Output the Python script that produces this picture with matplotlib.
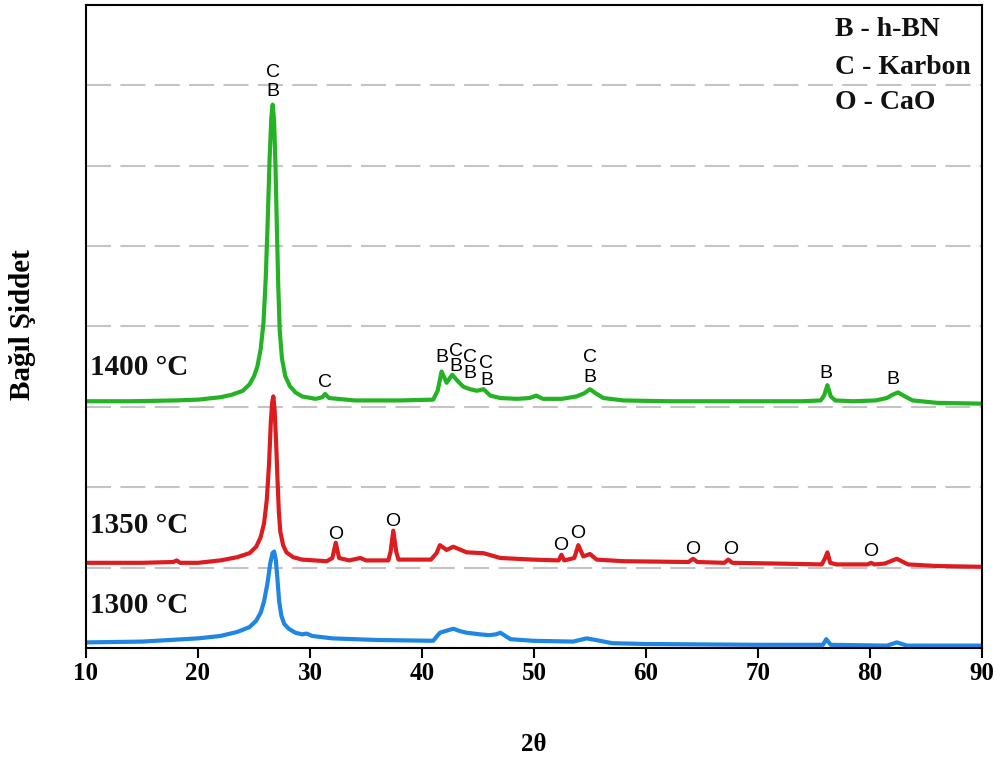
import matplotlib
matplotlib.use("Agg")
import matplotlib.pyplot as plt

# ---- XRD patterns (2θ in degrees, stacked relative intensity) ----
two_theta_1300 = [10, 15, 20, 22, 23.5, 24.6, 25.2, 25.6, 25.9, 26.2, 26.45, 26.65, 26.8,
                  26.95, 27.1, 27.25, 27.45, 27.7, 28.1, 28.7, 29.3, 29.7, 30.2, 32, 36,
                  41.0, 41.6, 42.3, 42.8, 43.4, 44.0, 45.2, 46.0, 46.6, 47.0, 47.9, 49.9,
                  53.5, 54.7, 55.5, 57, 60, 70, 75.8, 76.1, 76.5, 81.5, 82.4, 83.3, 90]
intensity_1300 = [0.07, 0.08, 0.12, 0.15, 0.20, 0.26, 0.34, 0.44, 0.58, 0.80, 1.05, 1.18, 1.20,
                  1.10, 0.85, 0.58, 0.40, 0.30, 0.24, 0.19, 0.17, 0.18, 0.15, 0.12, 0.10,
                  0.09, 0.19, 0.22, 0.24, 0.21, 0.19, 0.17, 0.16, 0.17, 0.19, 0.11, 0.09,
                  0.08, 0.12, 0.10, 0.06, 0.05, 0.04, 0.04, 0.11, 0.04, 0.03, 0.07, 0.03, 0.03]

two_theta_1350 = [10, 15, 17.8, 18.1, 18.4, 20, 22, 23.5, 24.6, 25.2, 25.6, 25.9, 26.15, 26.35,
                  26.5, 26.62, 26.73, 26.85, 26.98, 27.1, 27.22, 27.35, 27.6, 27.9, 28.5,
                  29.3, 31.5, 32.0, 32.3, 32.6, 33.5, 34.5, 35, 37.0, 37.2, 37.44, 37.7,
                  37.9, 40.8, 41.3, 41.6, 42.2, 42.8, 44, 45.5, 47, 49.9, 52.2, 52.45, 52.7,
                  53.6, 53.96, 54.4, 55.0, 55.6, 58, 63.8, 64.2, 64.6, 67.0, 67.35, 67.7,
                  72, 75.7, 76.0, 76.2, 76.45, 77, 79.8, 80.1, 80.4, 81.3, 82.4, 83.4, 86, 90]
intensity_1350 = [1.06, 1.06, 1.07, 1.09, 1.06, 1.06, 1.09, 1.13, 1.18, 1.26, 1.38, 1.55, 1.85, 2.30,
                  2.80, 3.05, 3.13, 2.95, 2.55, 2.10, 1.70, 1.45, 1.28, 1.19, 1.13,
                  1.10, 1.08, 1.12, 1.31, 1.12, 1.09, 1.12, 1.09, 1.09, 1.20, 1.46, 1.20,
                  1.10, 1.10, 1.18, 1.28, 1.22, 1.26, 1.19, 1.18, 1.12, 1.10, 1.09, 1.16, 1.09,
                  1.12, 1.28, 1.14, 1.17, 1.10, 1.08, 1.07, 1.11, 1.07, 1.06, 1.10, 1.06,
                  1.05, 1.04, 1.12, 1.19, 1.06, 1.04, 1.04, 1.06, 1.04, 1.05, 1.11, 1.04, 1.02, 1.01]

two_theta_1400 = [10, 14, 18, 20, 22, 23.0, 24.0, 24.6, 25.0, 25.3, 25.6, 25.85, 26.05, 26.2,
                  26.4, 26.55, 26.67, 26.8, 26.92, 27.05, 27.17, 27.3, 27.5, 27.8, 28.2,
                  28.7, 29.3, 30.5, 31.1, 31.35, 31.7, 34, 38, 41.0, 41.4, 41.75, 42.2,
                  42.7, 43.2, 43.7, 44.3, 44.9, 45.5, 46.1, 47.0, 48.5, 49.6, 50.2, 50.8,
                  52.5, 53.8, 54.5, 55.0, 55.5, 56.2, 58, 62, 66, 70, 74, 75.6, 75.9, 76.2,
                  76.5, 76.9, 78.5, 80.5, 81.5, 82.0, 82.5, 83.0, 83.8, 86, 90]
intensity_1400 = [3.07, 3.07, 3.08, 3.09, 3.12, 3.15, 3.20, 3.28, 3.38, 3.50, 3.72, 4.05, 4.60, 5.20,
                  6.10, 6.60, 6.76, 6.55, 6.00, 5.20, 4.50, 3.95, 3.60, 3.38, 3.26,
                  3.18, 3.13, 3.10, 3.12, 3.16, 3.11, 3.08, 3.08, 3.09, 3.20, 3.44, 3.30,
                  3.40, 3.32, 3.25, 3.22, 3.20, 3.22, 3.14, 3.11, 3.10, 3.11, 3.14, 3.10,
                  3.10, 3.13, 3.17, 3.22, 3.17, 3.11, 3.08, 3.07, 3.07, 3.07, 3.07, 3.08, 3.14, 3.27,
                  3.13, 3.08, 3.07, 3.08, 3.11, 3.15, 3.18, 3.14, 3.08, 3.05, 3.04]

# Phase markers: (letter, 2θ, height)
markers_1400 = [("C", 26.7, 7.16), ("B", 26.7, 6.92), ("C", 31.3, 3.30),
                ("B", 41.75, 3.61), ("C", 43.0, 3.69), ("B", 43.0, 3.50),
                ("C", 44.3, 3.62), ("B", 44.3, 3.41), ("C", 45.7, 3.54), ("B", 45.8, 3.33),
                ("C", 55.0, 3.61), ("B", 55.0, 3.37), ("B", 76.1, 3.41), ("B", 82.05, 3.34)]
markers_1350 = [("O", 32.3, 1.41), ("O", 37.4, 1.57), ("O", 52.4, 1.27), ("O", 53.9, 1.42),
                ("O", 64.2, 1.22), ("O", 67.55, 1.22), ("O", 80.07, 1.20)]

sample_labels = ["1300 °C", "1350 °C", "1400 °C"]
sample_label_heights = [0.535, 1.53, 3.49]
phase_key = ["B - h-BN", "C - Karbon", "O - CaO"]
phase_key_heights = [7.70, 7.22, 6.79]
x_ticks = [10, 20, 30, 40, 50, 60, 70, 80, 90]

serif = ["Liberation Serif", "DejaVu Serif"]
sans = ["Liberation Sans", "DejaVu Sans"]

fig = plt.figure(figsize=(10.02, 7.64), dpi=100)
ax = fig.add_axes([0.0858, 0.1518, 0.8942, 0.8417])

ax.set_xlim(10, 90)
ax.set_ylim(0, 8)

# dashed horizontal guides
ax.set_yticks(range(9))
ax.yaxis.grid(True, color="#c4c4c4", linewidth=1.5, linestyle=(0, (12, 4.5)))
ax.set_axisbelow(True)
ax.tick_params(axis="y", left=False, labelleft=False)

line_kw = dict(linewidth=3.0, solid_joinstyle="round", solid_capstyle="round")
ax.plot(two_theta_1300, intensity_1300, color="#1f86e3", **line_kw)
ax.plot(two_theta_1350, intensity_1350, color="#dd1c1f", **line_kw)
ax.plot(two_theta_1400, intensity_1400, color="#24b324", **line_kw)

for letter, x, y in markers_1400 + markers_1350:
    ax.text(x, y, letter, ha="center", va="center", fontsize=14, family=sans, color="black")

for label, y in zip(sample_labels, sample_label_heights):
    ax.text(10.36, y, label, ha="left", va="center", fontsize=21, fontweight="bold",
            family=serif, color="#111111")

for label, y in zip(phase_key, phase_key_heights):
    ax.text(76.9, y, label, ha="left", va="center", fontsize=20, fontweight="bold",
            family=serif, color="#111111")

ax.set_xticks(x_ticks)
ax.set_xticklabels([str(t) for t in x_ticks], fontsize=18, fontweight="bold", family=serif)
ax.tick_params(axis="x", direction="out", length=7, width=1.5, pad=3, color="black")

for spine in ax.spines.values():
    spine.set_linewidth(1.5)
    spine.set_color("black")

ax.set_xlabel("2θ", fontsize=18, fontweight="bold", family=serif)
ax.xaxis.set_label_coords(0.5, -0.132)
fig.text(23 / 1002, 1 - 325 / 764, "Bağıl Şiddet", rotation=90, ha="center", va="center",
         fontsize=21, fontweight="bold", family=serif)

fig.savefig("out.png", dpi=100)
